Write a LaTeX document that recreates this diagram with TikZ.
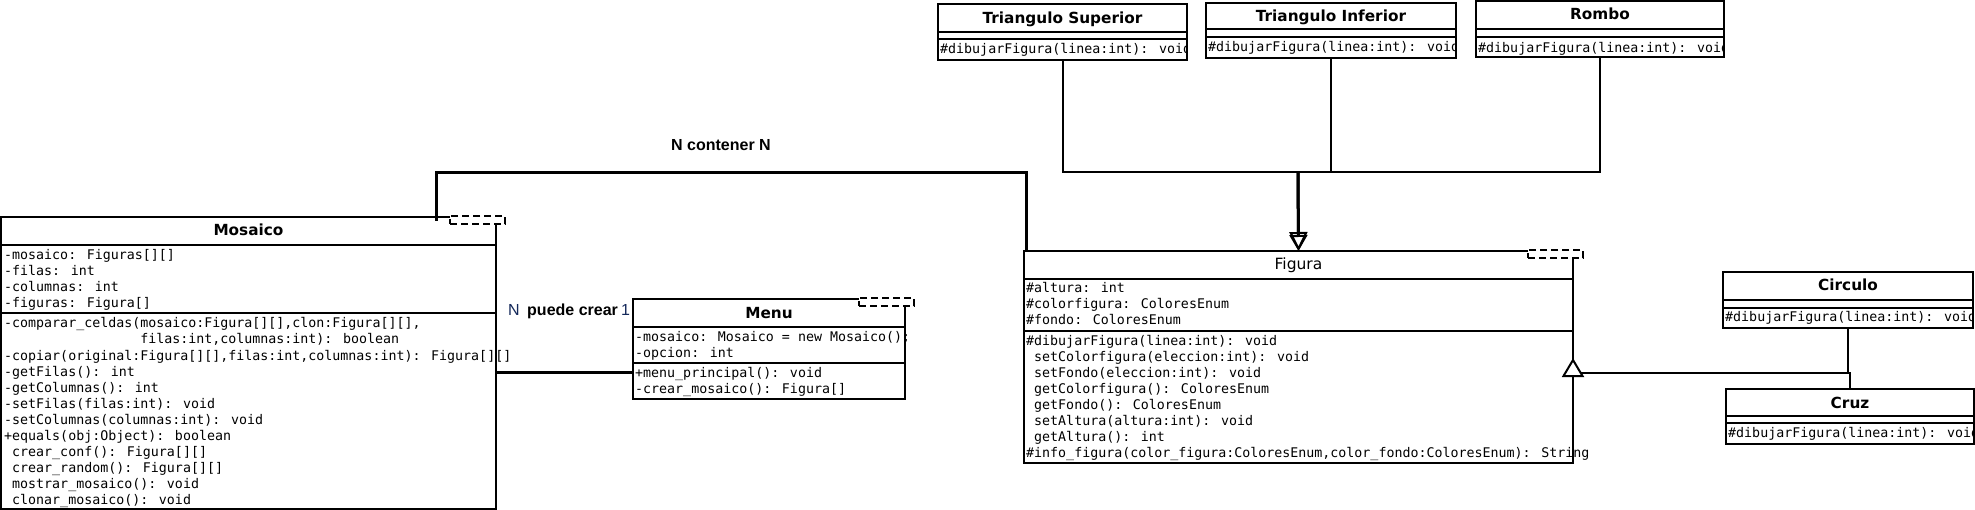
\documentclass[tikz,border=0pt]{standalone}
\usepackage{fontspec}
\setmainfont{DejaVu Sans}
\newfontfamily\monofont{DejaVu Sans Mono}
\newfontfamily\labelfont{Liberation Sans}
\usetikzlibrary{arrows.meta}
\definecolor{navy}{RGB}{20,40,90}
\newcommand\ind{\hphantom{x}}
\newcommand\classlines[5]{\foreach \itm [count=\i from 0] in {#5} {\node[monotext] (#1\i) at (#2,#3+#4*\i) {\itm};}}
\begin{document}
\begin{tikzpicture}[x=1pt,y=-1pt,
  classbox/.style={draw, line width=2pt, inner sep=0pt, outer sep=0pt, anchor=north west},
  divider/.style={line width=2pt},
  monotext/.style={font=\monofont\fontsize{13.3}{16}\selectfont, anchor=base west, inner sep=0pt},
  titletext/.style={font=\fontsize{15.3}{18}\selectfont\bfseries, anchor=base, inner sep=0pt},
  titleplain/.style={font=\fontsize{15.5}{18}\selectfont, anchor=base, inner sep=0pt},
  labbold/.style={font=\labelfont\fontsize{16}{19}\selectfont\bfseries, inner sep=0pt},
  labplain/.style={font=\labelfont\fontsize{16}{19}\selectfont, text=navy, inner sep=0pt, anchor=base west},
  tmpl/.style={draw, dash pattern=on 7pt off 4pt, line width=2pt, fill=white, inner sep=0pt, anchor=north west, minimum width=55pt, minimum height=8pt},
  assoc/.style={line width=3pt},
  gen/.style={line width=2pt},
  opentri/.style={-{Triangle[open, length=19pt, width=18pt, line width=2pt]}},
]
\fill[white] (0,0) rectangle (1975,510);
\useasboundingbox (0,0) rectangle (1975,510);

% ---------- Mosaico ----------
\node[classbox, minimum width=495pt, minimum height=292pt] (mosaico) at (1,217) {};
\draw[divider] (1,245) -- (496,245);
\draw[divider] (1,313) -- (496,313);
\node[titletext] (mosT) at (248.5,236) {Mosaico};
\classlines{mosA}{4}{259.5}{16}{{-mosaico: Figuras[][]},{-filas: int},{-columnas: int},{-figuras: Figura[]}}
\classlines{mosM}{4}{328}{16}{{-comparar\_celdas(mosaico:Figura[][],clon:Figura[][],},{\hphantom{-comparar\_celdas(}filas:int,columnas:int): boolean},{-copiar(original:Figura[][],filas:int,columnas:int): Figura[][]},{-getFilas(): int},{-getColumnas(): int},{-setFilas(filas:int): void},{-setColumnas(columnas:int): void},{+equals(obj:Object): boolean},{\ind crear\_conf(): Figura[][]},{\ind crear\_random(): Figura[][]},{\ind mostrar\_mosaico(): void},{\ind clonar\_mosaico(): void}}
\node[tmpl] (mosTpl) at (449,215) {};

% ---------- Menu ----------
\node[classbox, minimum width=272pt, minimum height=100pt] (menu) at (633,299) {};
\draw[divider] (633,327) -- (905,327);
\draw[divider] (633,363) -- (905,363);
\node[titletext] (menuT) at (769,319) {Menu};
\classlines{menuA}{635}{341.5}{16}{{-mosaico: Mosaico = new Mosaico();},{-opcion: int}}
\classlines{menuM}{635}{377.5}{16}{{+menu\_principal(): void},{-crear\_mosaico(): Figura[]}}
\node[tmpl] (menuTpl) at (858,297) {};

% ---------- Figura ----------
\node[classbox, minimum width=549pt, minimum height=212pt] (figura) at (1024,251) {};
\draw[divider] (1024,279) -- (1573,279);
\draw[divider] (1024,331) -- (1573,331);
\node[titleplain] (figT) at (1298.5,270) {Figura};
\classlines{figA}{1026}{292.5}{16}{{\#altura: int},{\#colorfigura: ColoresEnum},{\#fondo: ColoresEnum}}
\classlines{figM}{1026}{345.5}{16}{{\#dibujarFigura(linea:int): void},{\ind setColorfigura(eleccion:int): void},{\ind setFondo(eleccion:int): void},{\ind getColorfigura(): ColoresEnum},{\ind getFondo(): ColoresEnum},{\ind setAltura(altura:int): void},{\ind getAltura(): int},{\#info\_figura(color\_figura:ColoresEnum,color\_fondo:ColoresEnum): String}}
\node[tmpl] (figTpl) at (1527,249) {};

% ---------- Triangulo Superior ----------
\node[classbox, minimum width=249pt, minimum height=56pt] (ts) at (938,4) {};
\draw[divider] (938,32) -- (1187,32);
\draw[divider] (938,39) -- (1187,39);
\node[titletext] (tsT) at (1062.5,23.3) {Triangulo Superior};
\begin{scope}
\clip (ts.north west) rectangle (ts.south east);
\node[monotext] (tsM) at (940,54) {\#dibujarFigura(linea:int): void};
\end{scope}

% ---------- Triangulo Inferior ----------
\node[classbox, minimum width=250pt, minimum height=55pt] (ti) at (1206,3) {};
\draw[divider] (1206,29) -- (1456,29);
\draw[divider] (1206,37) -- (1456,37);
\node[titletext] (tiT) at (1331,21.7) {Triangulo Inferior};
\begin{scope}
\clip (ti.north west) rectangle (ti.south east);
\node[monotext] (tiM) at (1208,52) {\#dibujarFigura(linea:int): void};
\end{scope}

% ---------- Rombo ----------
\node[classbox, minimum width=248pt, minimum height=56pt] (ro) at (1476,1) {};
\draw[divider] (1476,29) -- (1724,29);
\draw[divider] (1476,37) -- (1724,37);
\node[titletext] (roT) at (1600,20) {Rombo};
\begin{scope}
\clip (ro.north west) rectangle (ro.south east);
\node[monotext] (roM) at (1478,52.5) {\#dibujarFigura(linea:int): void};
\end{scope}

% ---------- Circulo ----------
\node[classbox, minimum width=250pt, minimum height=56pt] (ci) at (1723,272) {};
\draw[divider] (1723,300) -- (1973,300);
\draw[divider] (1723,308) -- (1973,308);
\node[titletext] (ciT) at (1848,291) {Circulo};
\begin{scope}
\clip (ci.north west) rectangle (ci.south east);
\node[monotext] (ciM) at (1725,321.5) {\#dibujarFigura(linea:int): void};
\end{scope}

% ---------- Cruz ----------
\node[classbox, minimum width=248pt, minimum height=55pt] (cr) at (1726,389) {};
\draw[divider] (1726,416) -- (1974,416);
\draw[divider] (1726,423) -- (1974,423);
\node[titletext] (crT) at (1850,408) {Cruz};
\begin{scope}
\clip (cr.north west) rectangle (cr.south east);
\node[monotext] (crM) at (1728,437.5) {\#dibujarFigura(linea:int): void};
\end{scope}

% ---------- Generalisation: top three -> Figura ----------
\coordinate (jt) at (1298,172);
\draw[gen] (ts.south) |- (jt);
\draw[gen] (ro.south) |- (jt);
\draw[gen] (ti.south) |- (jt);
\draw[assoc, opentri] (jt) -- (figura.north);
\draw[assoc, -{Triangle[open, length=16pt, width=18pt, line width=2pt]}] (jt) -- (figura.north);

% ---------- Generalisation: Circulo, Cruz -> Figura ----------
\coordinate (tipc) at (figura.east |- 0,373);
\draw[gen] (ci.south) |- (tipc);
\draw[gen] (cr.north) |- (tipc);
\draw[gen, fill=white] ([shift={(-9.5,3)}]tipc) -- ([shift={(0,-13)}]tipc) -- ([shift={(9.5,3)}]tipc) -- cycle;

% ---------- Association Mosaico -- Figura ----------
\draw[assoc] ([xshift=435pt, yshift=-4pt]mosaico.north west) -- ++(0,-48) -| ([xshift=2pt]figura.north west);
\node[labbold, anchor=base] (lcont) at (721,151) {N contener N};

% ---------- Association Mosaico -- Menu ----------
\draw[assoc] ([yshift=-23pt]menu.west) -- ([yshift=-23pt]menu.west -| mosaico.east);
\node[labplain] (lN) at (508,315.5) {N};
\node[labbold, anchor=base west] (lcrear) at (527,315.5) {puede crear};
\node[labplain] (lOne) at (621,315.5) {1};
\end{tikzpicture}
\end{document}
